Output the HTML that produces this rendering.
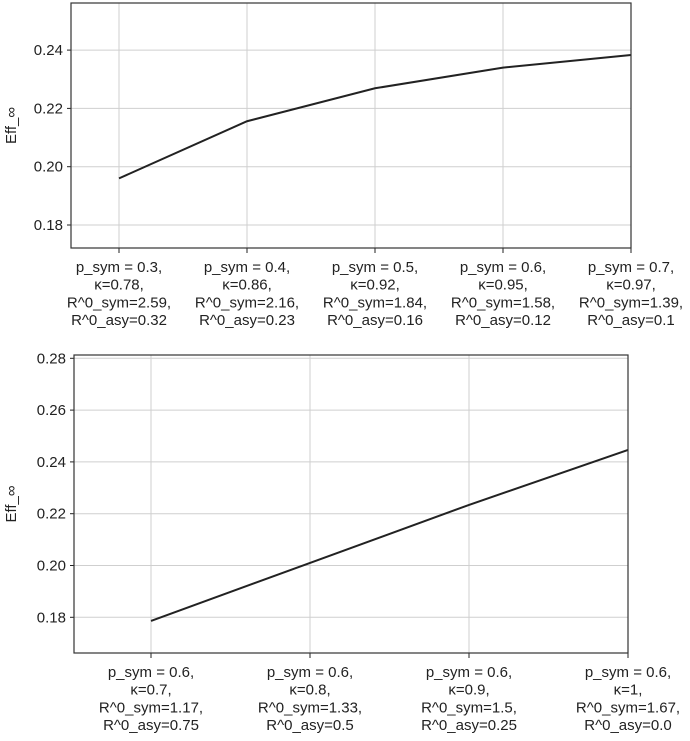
<!DOCTYPE html>
<html><head><meta charset="utf-8"><style>
body{margin:0;background:#fff;}
svg{font-family:"Liberation Sans","DejaVu Sans",sans-serif;}
</style></head><body>
<svg id="c" width="690" height="736" xmlns="http://www.w3.org/2000/svg"></svg>
<script>
const topCats=[["p_sym = 0.3,","κ=0.78,","R^0_sym=2.59,","R^0_asy=0.32"],["p_sym = 0.4,","κ=0.86,","R^0_sym=2.16,","R^0_asy=0.23"],["p_sym = 0.5,","κ=0.92,","R^0_sym=1.84,","R^0_asy=0.16"],["p_sym = 0.6,","κ=0.95,","R^0_sym=1.58,","R^0_asy=0.12"],["p_sym = 0.7,","κ=0.97,","R^0_sym=1.39,","R^0_asy=0.1"]];
const topValues=[0.1960,0.2156,0.2269,0.2340,0.2383];
const topTicks=[0.18,0.20,0.22,0.24];
const botCats=[["p_sym = 0.6,","κ=0.7,","R^0_sym=1.17,","R^0_asy=0.75"],["p_sym = 0.6,","κ=0.8,","R^0_sym=1.33,","R^0_asy=0.5"],["p_sym = 0.6,","κ=0.9,","R^0_sym=1.5,","R^0_asy=0.25"],["p_sym = 0.6,","κ=1,","R^0_sym=1.67,","R^0_asy=0.0"]];
const botValues=[0.1786,0.2010,0.2234,0.2446];
const botTicks=[0.18,0.20,0.22,0.24,0.26,0.28];

const svg=document.getElementById('c');
const NS='http://www.w3.org/2000/svg';
function mk(t,a,p){const e=document.createElementNS(NS,t);for(const k in a)e.setAttribute(k,a[k]);(p||svg).appendChild(e);return e;}

function panel(cfg,cats,vals,ticks,pfx){
  const g=mk('g',{});
  
  
  const x=i=>cfg.x0+(i-cfg.i0)*cfg.dx;
  const y=v=>cfg.y0-(v-cfg.v0)*cfg.ky;
  ticks.forEach(t=>{
    const l=mk('line',{x1:cfg.left,x2:cfg.right,y1:y(t),y2:y(t),stroke:'#cfcfcf','stroke-width':1},g);
    
    
    mk('line',{x1:cfg.left-4,x2:cfg.left,y1:y(t),y2:y(t),stroke:'#222'},g);
    const tx=mk('text',{x:cfg.left-8,y:y(t)+5,'text-anchor':'end','font-size':15,fill:'#222'},g);
    tx.textContent=t.toFixed(2);
    
    
  });
  cats.forEach((c,i)=>{
    const l=mk('line',{x1:x(i),x2:x(i),y1:cfg.top,y2:cfg.bottom,stroke:'#cfcfcf','stroke-width':1},g);
    
    
    mk('line',{x1:x(i),x2:x(i),y1:cfg.bottom,y2:cfg.bottom+5,stroke:'#222'},g);
    const tx=mk('text',{'text-anchor':'middle','font-size':15,fill:'#222'},g);
    
    
    c.forEach((s,j)=>{const ts=mk('tspan',{x:x(i),y:cfg.bottom+24+j*17.7},tx);ts.textContent=s;});
  });
  const pl=mk('polyline',{points:vals.map((v,i)=>x(i)+','+y(v)).join(' '),fill:'none',stroke:'#222','stroke-width':2},g);
  
  
  const fr=mk('rect',{x:cfg.left,y:cfg.top,width:cfg.right-cfg.left,height:cfg.bottom-cfg.top,fill:'none',stroke:'#333','stroke-width':1.2},g);
  
  
  const yl=mk('text',{x:0,y:0,'font-size':15,fill:'#222','text-anchor':'middle',transform:`translate(16,${(cfg.top+cfg.bottom)/2}) rotate(-90)`},g);
  yl.textContent='Eff_∞';
  
  
}
panel({left:71,right:631,top:3,bottom:248,x0:119,i0:0,dx:128,y0:166.7,v0:0.20,ky:58.3/0.02},topCats,topValues,topTicks,'top');
panel({left:74,right:628,top:355,bottom:653,x0:151,i0:0,dx:159,y0:565.5,v0:0.20,ky:51.8/0.02},botCats,botValues,botTicks,'bottom');
</script>
</body></html>
